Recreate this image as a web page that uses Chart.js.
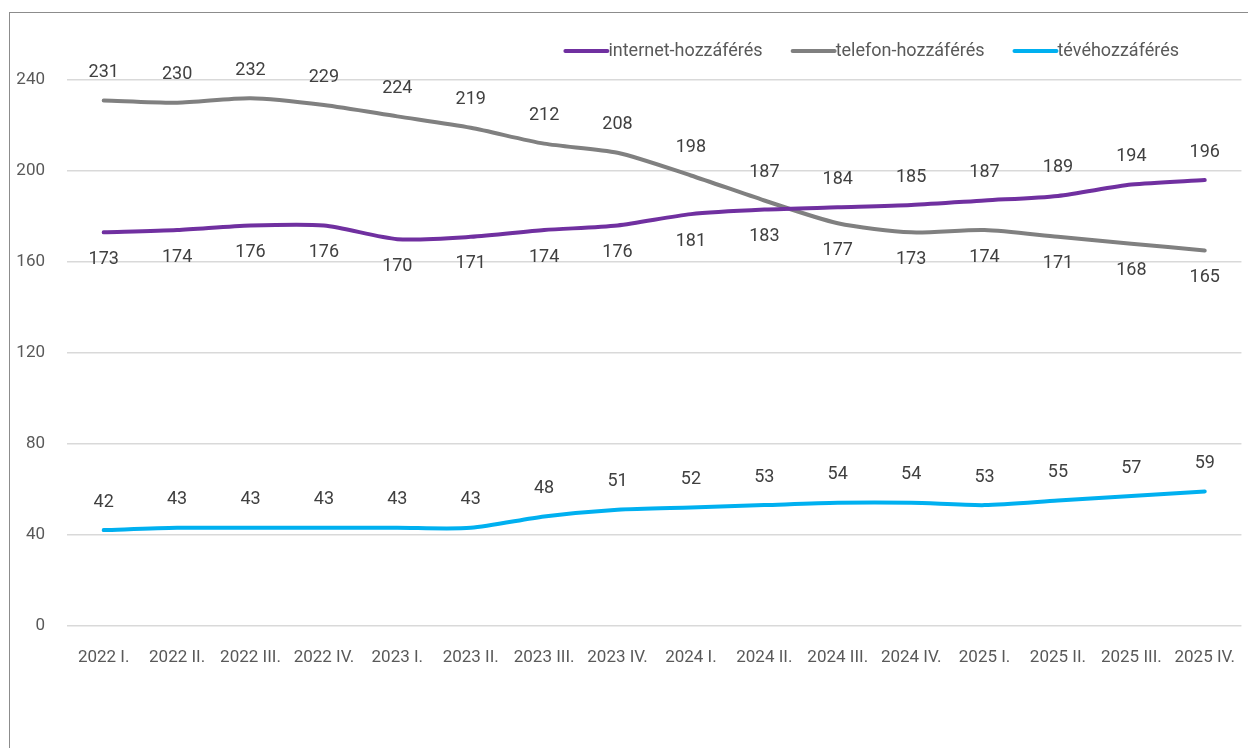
<!DOCTYPE html>
<html>
<head>
<meta charset="utf-8">
<script src="https://cdn.jsdelivr.net/npm/chart.js@4.4.1/dist/chart.umd.min.js"></script>
<style>
    html, body { margin: 0; padding: 0; background: #fff; overflow: hidden; }
    #keret {
        position: absolute; left: 9px; top: 12px;
        width: 1248px; height: 736px;
        border-left: 1px solid #8c8c8c; border-top: 1px solid #8c8c8c;
    }
    #hozzaferesek { display: block; }
</style>
</head>
<body>
<div id="keret">
    <canvas id="hozzaferesek" width="1247" height="735"></canvas>
</div>
<script>
// negyedévek
const negyedevek = [
    "2022 I.", "2022 II.", "2022 III.", "2022 IV.",
    "2023 I.", "2023 II.", "2023 III.", "2023 IV.",
    "2024 I.", "2024 II.", "2024 III.", "2024 IV.",
    "2025 I.", "2025 II.", "2025 III.", "2025 IV."
];

// hozzáférések száma
const internetHozzaferes = [173, 174, 176, 176, 170, 171, 174, 176, 181, 183, 184, 185, 187, 189, 194, 196];
const telefonHozzaferes = [231, 230, 232, 229, 224, 219, 212, 208, 198, 187, 177, 173, 174, 171, 168, 165];
const teveHozzaferes = [42, 43, 43, 43, 43, 43, 48, 51, 52, 53, 54, 54, 53, 55, 57, 59];

// y tengely beosztás
const yMin = 0;
const yMax = 240;
const yLepes = 40;

const betu = "Roboto, 'Noto Sans', sans-serif";

// értékcímkék: a közeli, magasabb vonal alatt lefelé, egyébként felfelé
const ertekCimkek = {
    id: "ertekCimkek",
    afterDatasetsDraw(chart) {
        const ctx = chart.ctx;
        const adatsorok = chart.data.datasets;
        ctx.save();
        ctx.font = "18px " + betu;
        ctx.fillStyle = "#404040";
        ctx.textAlign = "center";
        ctx.textBaseline = "middle";
        adatsorok.forEach(function (ds, i) {
            const meta = chart.getDatasetMeta(i);
            meta.data.forEach(function (pont, j) {
                const v = ds.data[j];
                let lent = false;
                adatsorok.forEach(function (masik, k) {
                    if (k !== i && masik.data[j] > v && masik.data[j] - v < 60) lent = true;
                });
                const y = lent ? pont.y + 27 : pont.y - 28;
                ctx.fillText(String(v), pont.x, y);
            });
        });
        ctx.restore();
    }
};

// jelmagyarázat jobbra fent
const jelmagyarazat = {
    id: "jelmagyarazat",
    afterDraw(chart) {
        const ctx = chart.ctx;
        const adatsorok = chart.data.datasets;
        const vonalHossz = 43;
        const kozt = 30;
        const y = 38;
        ctx.save();
        ctx.font = "18px " + betu;
        ctx.textBaseline = "middle";
        let x = 1169;
        for (let i = adatsorok.length - 1; i >= 0; i--) {
            const ds = adatsorok[i];
            const w = ctx.measureText(ds.label).width;
            x -= w;
            ctx.fillStyle = "#595959";
            ctx.textAlign = "left";
            ctx.fillText(ds.label, x, y);
            ctx.strokeStyle = ds.borderColor;
            ctx.lineWidth = 4;
            ctx.lineCap = "round";
            ctx.beginPath();
            ctx.moveTo(x - vonalHossz, y);
            ctx.lineTo(x - 1, y);
            ctx.stroke();
            x -= vonalHossz + kozt;
        }
        ctx.restore();
    }
};

const vonal = function (cimke, adat, szin) {
    return {
        label: cimke,
        data: adat,
        borderColor: szin,
        backgroundColor: szin,
        borderWidth: 4,
        borderCapStyle: "round",
        pointRadius: 0,
        tension: 0.25,
        fill: false
    };
};

new Chart(document.getElementById("hozzaferesek"), {
    type: "line",
    data: {
        labels: negyedevek,
        datasets: [
            vonal("internet-hozzáférés", internetHozzaferes, "#7030a0"),
            vonal("telefon-hozzáférés", telefonHozzaferes, "#808080"),
            vonal("tévéhozzáférés", teveHozzaferes, "#00b0f0")
        ]
    },
    options: {
        responsive: false,
        animation: false,
        devicePixelRatio: 1,
        layout: { padding: { top: 67, right: 0, bottom: 58, left: 0 } },
        plugins: {
            legend: { display: false },
            tooltip: { enabled: false }
        },
        scales: {
            x: {
                offset: true,
                grid: { display: false, drawTicks: false },
                border: { display: false },
                ticks: {
                    padding: 22,
                    color: "#595959",
                    font: { family: betu, size: 17 },
                    maxRotation: 0,
                    autoSkip: false
                }
            },
            y: {
                min: yMin,
                max: yMax,
                grid: { color: "#d9d9d9", lineWidth: 1.5, drawTicks: false },
                border: { display: false },
                ticks: {
                    stepSize: yLepes,
                    padding: 22,
                    color: "#595959",
                    font: { family: betu, size: 17 }
                },
                afterFit(scale) { scale.width = 57; }
            }
        }
    },
    plugins: [ertekCimkek, jelmagyarazat]
});
</script>
</body>
</html>
